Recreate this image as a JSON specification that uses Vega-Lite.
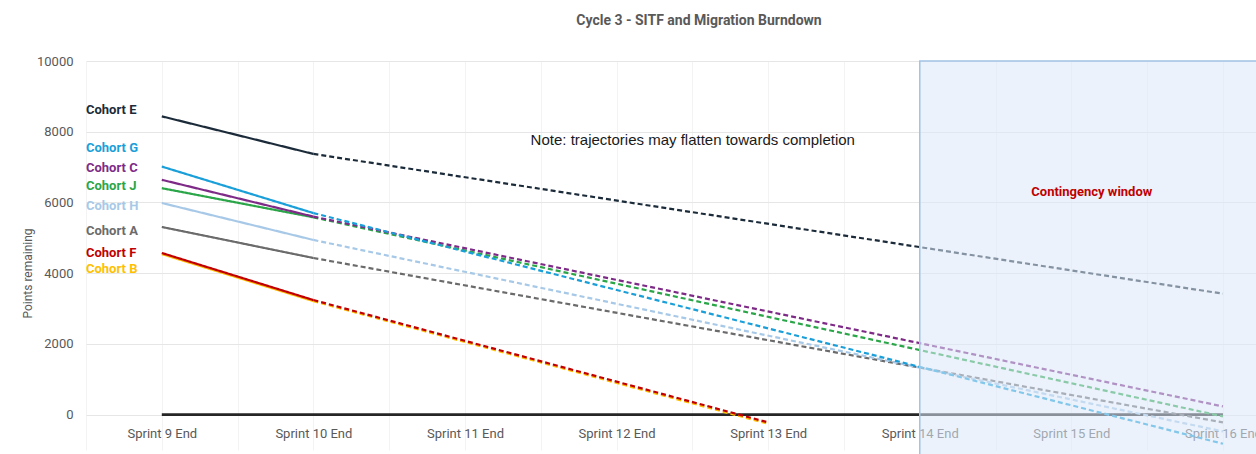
{
  "$schema": "https://vega.github.io/schema/vega-lite/v6.json",
  "autosize": {"type": "none"},
  "padding": {"left": 86, "top": 61, "right": 0, "bottom": 4},
  "width": 1170,
  "height": 389,
  "background": "white",
  "config": {"view": {"stroke": null}, "font": "Roboto"},
  "title": {
    "text": "Cycle 3 - SITF and Migration Burndown",
    "fontSize": 14,
    "fontWeight": "bold",
    "color": "#595959",
    "anchor": "middle",
    "dx": 28,
    "offset": 27,
    "font": "Roboto"
  },
  "datasets": {
    "cohorts": [
      {"cohort": "Cohort E", "phase": "Actual", "sprint": 9, "points": 8435},
      {"cohort": "Cohort E", "phase": "Actual", "sprint": 10, "points": 7372},
      {"cohort": "Cohort E", "phase": "Projected", "sprint": 10, "points": 7372},
      {"cohort": "Cohort E", "phase": "Projected", "sprint": 16, "points": 3420},
      {"cohort": "Cohort A", "phase": "Actual", "sprint": 9, "points": 5307},
      {"cohort": "Cohort A", "phase": "Actual", "sprint": 10, "points": 4430},
      {"cohort": "Cohort A", "phase": "Projected", "sprint": 10, "points": 4430},
      {"cohort": "Cohort A", "phase": "Projected", "sprint": 16, "points": -220},
      {"cohort": "Cohort H", "phase": "Actual", "sprint": 9, "points": 5985},
      {"cohort": "Cohort H", "phase": "Actual", "sprint": 10, "points": 4940},
      {"cohort": "Cohort H", "phase": "Projected", "sprint": 10, "points": 4940},
      {"cohort": "Cohort H", "phase": "Projected", "sprint": 16, "points": -474},
      {"cohort": "Cohort J", "phase": "Actual", "sprint": 9, "points": 6404},
      {"cohort": "Cohort J", "phase": "Actual", "sprint": 10, "points": 5580},
      {"cohort": "Cohort J", "phase": "Projected", "sprint": 10, "points": 5580},
      {"cohort": "Cohort J", "phase": "Projected", "sprint": 16, "points": -51},
      {"cohort": "Cohort C", "phase": "Actual", "sprint": 9, "points": 6640},
      {"cohort": "Cohort C", "phase": "Actual", "sprint": 10, "points": 5600},
      {"cohort": "Cohort C", "phase": "Projected", "sprint": 10, "points": 5600},
      {"cohort": "Cohort C", "phase": "Projected", "sprint": 16, "points": 232},
      {"cohort": "Cohort G", "phase": "Actual", "sprint": 9, "points": 7015},
      {"cohort": "Cohort G", "phase": "Actual", "sprint": 10, "points": 5700},
      {"cohort": "Cohort G", "phase": "Projected", "sprint": 10, "points": 5700},
      {"cohort": "Cohort G", "phase": "Projected", "sprint": 16, "points": -823},
      {"cohort": "Cohort B", "phase": "Actual", "sprint": 9, "points": 4540},
      {"cohort": "Cohort B", "phase": "Actual", "sprint": 10, "points": 3210},
      {"cohort": "Cohort B", "phase": "Projected", "sprint": 10, "points": 3210},
      {"cohort": "Cohort B", "phase": "Projected", "sprint": 13, "points": -260},
      {"cohort": "Cohort F", "phase": "Actual", "sprint": 9, "points": 4571},
      {"cohort": "Cohort F", "phase": "Actual", "sprint": 10, "points": 3240},
      {"cohort": "Cohort F", "phase": "Projected", "sprint": 10, "points": 3240},
      {"cohort": "Cohort F", "phase": "Projected", "sprint": 13, "points": -220}
    ],
    "baseline": [
      {"sprint": 9, "points": 0},
      {"sprint": 16, "points": 0}
    ],
    "labels": [
      {"cohort": "Cohort E", "labelValue": 8605},
      {"cohort": "Cohort G", "labelValue": 7530},
      {"cohort": "Cohort C", "labelValue": 6976},
      {"cohort": "Cohort J", "labelValue": 6475},
      {"cohort": "Cohort H", "labelValue": 5910},
      {"cohort": "Cohort A", "labelValue": 5183},
      {"cohort": "Cohort F", "labelValue": 4571},
      {"cohort": "Cohort B", "labelValue": 4127}
    ],
    "notes": [
      {"text": "Note: trajectories may flatten towards completion", "sprint": 11.433, "points": 7777}
    ],
    "windows": [
      {"label": "Contingency window", "start": 14, "end": 16.5, "top": 10000, "bottom": -1400, "labelSprint": 15.135, "labelPoints": 6297}
    ]
  },
  "layer": [
    {
      "data": {"name": "baseline"},
      "mark": {"type": "line", "color": "#262626", "strokeWidth": 2.6},
      "encoding": {
        "x": {
          "field": "sprint",
          "type": "quantitative",
          "scale": {"domain": [8.5, 16.218], "nice": false, "zero": false},
          "axis": {
            "title": null,
            "values": [8.5, 9, 9.5, 10, 10.5, 11, 11.5, 12, 12.5, 13, 13.5, 14, 14.5, 15, 15.5, 16],
            "labelExpr": "datum.value % 1 === 0 ? 'Sprint ' + datum.value + ' End' : ''",
            "grid": true,
            "gridColor": "#f3f3f3",
            "gridWidth": 1,
            "domain": false,
            "ticks": false,
            "tickSize": 0,
            "offset": -35.4,
            "labelPadding": 13,
            "labelFontSize": 13,
            "labelColor": "#595959",
            "labelFont": "Roboto",
            "labelOverlap": false
          }
        },
        "y": {
          "field": "points",
          "type": "quantitative",
          "scale": {"domain": [-1000, 10000], "nice": false, "zero": false},
          "axis": {
            "title": "Points remaining",
            "titleFontSize": 12,
            "titleFontWeight": "normal",
            "titleColor": "#595959",
            "titleFont": "Roboto",
            "titleX": -59,
            "titleY": 212,
            "titleBaseline": "middle",
            "titleAngle": -90,
            "values": [0, 2000, 4000, 6000, 8000, 10000],
            "format": "d",
            "grid": true,
            "gridColor": "#e6e6e6",
            "domain": false,
            "ticks": false,
            "tickSize": 0,
            "labelPadding": 13,
            "labelFontSize": 13,
            "labelColor": "#595959",
            "labelFont": "Roboto"
          }
        }
      }
    },
    {
      "data": {"name": "cohorts"},
      "mark": {"type": "line", "strokeWidth": 2.2},
      "encoding": {
        "x": {"field": "sprint", "type": "quantitative"},
        "y": {"field": "points", "type": "quantitative"},
        "color": {
          "field": "cohort",
          "type": "nominal",
          "scale": {
            "domain": ["Cohort E", "Cohort G", "Cohort C", "Cohort J", "Cohort H", "Cohort A", "Cohort B", "Cohort F"],
            "range": ["#1c2b3a", "#1a9fd9", "#7e2b87", "#2aa648", "#a7c9e7", "#6b6b6b", "#ffc000", "#c00000"]
          },
          "legend": null
        },
        "strokeDash": {
          "field": "phase",
          "type": "nominal",
          "scale": {"domain": ["Actual", "Projected"], "range": [[1, 0], [5, 3]]},
          "legend": null
        }
      }
    },
    {
      "data": {"name": "labels"},
      "mark": {"type": "text", "align": "left", "baseline": "middle", "fontWeight": "bold", "fontSize": 13, "font": "Roboto"},
      "encoding": {
        "x": {"datum": 8.5, "type": "quantitative"},
        "y": {"field": "labelValue", "type": "quantitative"},
        "text": {"field": "cohort"},
        "color": {"field": "cohort", "type": "nominal", "legend": null}
      }
    },
    {
      "data": {"name": "notes"},
      "mark": {"type": "text", "align": "left", "baseline": "middle", "fontSize": 15, "font": "Liberation Sans", "color": "#1a1a1a"},
      "encoding": {
        "x": {"field": "sprint", "type": "quantitative"},
        "y": {"field": "points", "type": "quantitative"},
        "text": {"field": "text"}
      }
    },
    {
      "data": {"name": "windows"},
      "mark": {"type": "rect", "fill": "#dbe8f7", "fillOpacity": 0.55, "stroke": "#a3c4e6", "strokeWidth": 1.5, "clip": false},
      "encoding": {
        "x": {"field": "start", "type": "quantitative"},
        "x2": {"field": "end"},
        "y": {"field": "top", "type": "quantitative"},
        "y2": {"field": "bottom"}
      }
    },
    {
      "data": {"name": "windows"},
      "mark": {"type": "text", "align": "center", "baseline": "middle", "fontWeight": "bold", "fontSize": 13, "font": "Roboto", "color": "#c00000"},
      "encoding": {
        "x": {"field": "labelSprint", "type": "quantitative"},
        "y": {"field": "labelPoints", "type": "quantitative"},
        "text": {"field": "label"}
      }
    }
  ]
}
